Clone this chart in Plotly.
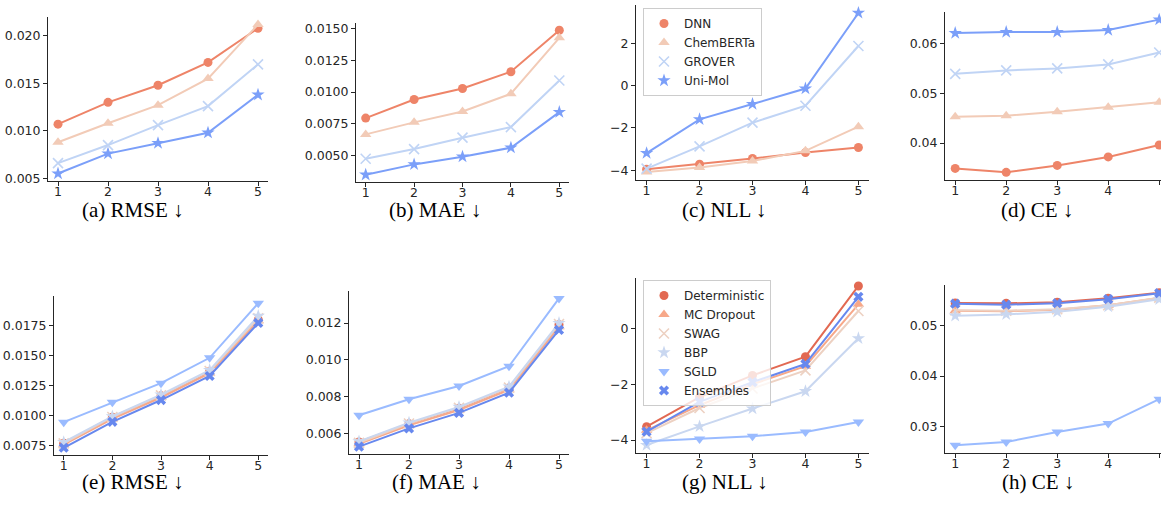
import plotly.graph_objects as go

W, H = 1161, 516
steps = [1, 2, 3, 4, 5]

# ---- Row 1: models ----
models = ["DNN", "ChemBERTa", "GROVER", "Uni-Mol"]
rmse_models = {
    "DNN":       [0.0107, 0.0130, 0.0148, 0.0172, 0.0208],
    "ChemBERTa": [0.0088, 0.0108, 0.0127, 0.0155, 0.0212],
    "GROVER":    [0.0066, 0.0085, 0.0106, 0.0126, 0.0170],
    "Uni-Mol":   [0.0055, 0.0076, 0.0087, 0.0098, 0.0138],
}
mae_models = {
    "DNN":       [0.00795, 0.00942, 0.01029, 0.01161, 0.01489],
    "ChemBERTa": [0.00666, 0.00761, 0.00847, 0.00987, 0.01429],
    "GROVER":    [0.00474, 0.00550, 0.00640, 0.00724, 0.01092],
    "Uni-Mol":   [0.00347, 0.00429, 0.00490, 0.00561, 0.00842],
}
nll_models = {
    "DNN":       [-3.95, -3.71, -3.44, -3.16, -2.92],
    "ChemBERTa": [-4.08, -3.87, -3.56, -3.08, -1.94],
    "GROVER":    [-3.92, -2.87, -1.75, -0.95, 1.87],
    "Uni-Mol":   [-3.19, -1.59, -0.87, -0.14, 3.43],
}
ce_models = {
    "DNN":       [0.0349, 0.0341, 0.0355, 0.0372, 0.0396],
    "ChemBERTa": [0.0453, 0.0455, 0.0463, 0.0472, 0.0482],
    "GROVER":    [0.0539, 0.0546, 0.0550, 0.0558, 0.0582],
    "Uni-Mol":   [0.0621, 0.0623, 0.0623, 0.0627, 0.0648],
}

# ---- Row 2: UQ methods ----
methods = ["Deterministic", "MC Dropout", "SWAG", "BBP", "SGLD", "Ensembles"]
rmse_methods = {
    "Deterministic": [0.00772, 0.00988, 0.01166, 0.01369, 0.01799],
    "MC Dropout":    [0.00760, 0.00975, 0.01152, 0.01355, 0.01790],
    "SWAG":          [0.00770, 0.00990, 0.01170, 0.01372, 0.01810],
    "BBP":           [0.00780, 0.00995, 0.01175, 0.01380, 0.01830],
    "SGLD":          [0.00947, 0.01112, 0.01271, 0.01482, 0.01936],
    "Ensembles":     [0.00734, 0.00950, 0.01131, 0.01331, 0.01772],
}
mae_methods = {
    "Deterministic": [0.00555, 0.00654, 0.00738, 0.00848, 0.01191],
    "MC Dropout":    [0.00545, 0.00645, 0.00728, 0.00838, 0.01180],
    "SWAG":          [0.00550, 0.00655, 0.00740, 0.00850, 0.01195],
    "BBP":           [0.00558, 0.00660, 0.00745, 0.00855, 0.01200],
    "SGLD":          [0.00700, 0.00787, 0.00859, 0.00966, 0.01334],
    "Ensembles":     [0.00530, 0.00629, 0.00713, 0.00823, 0.01163],
}
nll_methods = {
    "Deterministic": [-3.52, -2.46, -1.68, -1.01, 1.53],
    "MC Dropout":    [-3.65, -2.75, -2.00, -1.35, 0.87],
    "SWAG":          [-3.75, -2.85, -2.15, -1.50, 0.63],
    "BBP":           [-4.18, -3.51, -2.87, -2.25, -0.35],
    "SGLD":          [-4.04, -3.96, -3.86, -3.71, -3.35],
    "Ensembles":     [-3.70, -2.63, -1.92, -1.27, 1.14],
}
ce_methods = {
    "Deterministic": [0.05453, 0.05447, 0.05467, 0.05547, 0.05660],
    "MC Dropout":    [0.05300, 0.05290, 0.05320, 0.05407, 0.05553],
    "SWAG":          [0.05310, 0.05300, 0.05330, 0.05410, 0.05560],
    "BBP":           [0.05200, 0.05227, 0.05280, 0.05380, 0.05527],
    "SGLD":          [0.02620, 0.02687, 0.02887, 0.03053, 0.03540],
    "Ensembles":     [0.05440, 0.05420, 0.05450, 0.05530, 0.05650],
}

captions = ["(a) RMSE ↓", "(b) MAE ↓", "(c) NLL ↓", "(d) CE ↓",
            "(e) RMSE ↓", "(f) MAE ↓", "(g) NLL ↓", "(h) CE ↓"]

model_colors = {"DNN": "#ee8468", "ChemBERTa": "#f2cbb7", "GROVER": "#c0d4f5", "Uni-Mol": "#7b9ff9"}
model_symbols = {"DNN": "circle", "ChemBERTa": "triangle-up", "GROVER": "x-thin", "Uni-Mol": "star"}
method_colors = {"Deterministic": "#e26952", "MC Dropout": "#f7a889", "SWAG": "#edd1c2",
                 "BBP": "#c9d7f0", "SGLD": "#9abbff", "Ensembles": "#6788ee"}
method_symbols = {"Deterministic": "circle", "MC Dropout": "triangle-up", "SWAG": "x-thin",
                  "BBP": "star", "SGLD": "triangle-down", "Ensembles": "x"}

# panel pixel boxes: x0, x1, y0(top), y1(bottom), xmax
boxes = [
    (48, 268, 17, 181, 5.2), (356, 569, 23, 182, 5.2), (636, 869, 5, 180, 5.2), (945, 1161, 12, 180, 5.035),
    (54, 268, 296, 455, 5.2), (349, 569, 291, 454, 5.2), (636, 869, 278, 453, 5.2), (945, 1161, 285, 453, 5.035),
]
yfmt = [(".3f", 0.005), (".4f", 0.0025), ("d", 2), (".2f", 0.01),
        (".4f", 0.0025), (".3f", 0.002), ("d", 2), (".2f", 0.01)]

fig = go.Figure()
ink = "#262626"

def add_panel(idx, data, names, colors, symbols, legend_name):
    ax = "" if idx == 0 else str(idx + 1)
    for n in names:
        c = colors[n]
        sym = symbols[n]
        thin = sym == "x-thin"
        size = 10 if sym in ("star", "x-thin", "triangle-up", "triangle-down") else 9
        fig.add_trace(go.Scatter(
            x=steps, y=data[n], mode="lines", line=dict(color=c, width=2),
            xaxis="x" + ax, yaxis="y" + ax, showlegend=False, hoverinfo="skip"))
        fig.add_trace(go.Scatter(
            x=steps, y=data[n], mode="markers", name=n,
            marker=dict(symbol=sym, size=size, color=c,
                        line=dict(color=c, width=1.6 if thin else 0)),
            xaxis="x" + ax, yaxis="y" + ax,
            showlegend=legend_name is not None, legend=legend_name or "legend"))

panels = [(rmse_models, None), (mae_models, None), (nll_models, "legend"), (ce_models, None)]
for i, (d, lg) in enumerate(panels):
    add_panel(i, d, models, model_colors, model_symbols, lg)
panels2 = [(rmse_methods, None), (mae_methods, None), (nll_methods, "legend2"), (ce_methods, None)]
for i, (d, lg) in enumerate(panels2):
    add_panel(i + 4, d, methods, method_colors, method_symbols, lg)

layout = {}
all_data = [rmse_models, mae_models, nll_models, ce_models,
            rmse_methods, mae_methods, nll_methods, ce_methods]
for i, (x0, x1, y0, y1, xmax) in enumerate(boxes):
    ax = "" if i == 0 else str(i + 1)
    vals = [v for s in all_data[i].values() for v in s]
    lo, hi = min(vals), max(vals)
    m = 0.05 * (hi - lo)
    fmt, dt = yfmt[i]
    common = dict(showline=True, linecolor=ink, linewidth=1, ticks="outside", ticklen=4,
                  tickwidth=1, tickcolor=ink, showgrid=False, zeroline=False, automargin=False,
                  tickfont=dict(family="DejaVu Sans", size=12.5, color=ink))
    layout["xaxis" + ax] = dict(domain=[x0 / W, min(1, x1 / W)], range=[0.8, xmax],
                                anchor="y" + ax, tickmode="linear", tick0=1, dtick=1,
                                ticklabelstandoff=-5, **common)
    layout["yaxis" + ax] = dict(domain=[1 - y1 / H, 1 - y0 / H], range=[lo - m, hi + m],
                                anchor="x" + ax, tickformat=fmt if fmt != "d" else None,
                                dtick=dt, tick0=0, **common)

cap_pos = [(133, 210), (435, 210), (724, 210), (1037, 210),
           (133, 482), (436, 482), (725, 482), (1038, 482)]
annotations = []
for t, (cx, cy) in zip(captions, cap_pos):
    annotations.append(dict(text=t, x=cx / W, y=1 - cy / H, xref="paper", yref="paper",
                            showarrow=False, xanchor="center", yanchor="middle",
                            font=dict(family="Liberation Serif", size=21, color="#000000")))

leg_common = dict(bgcolor="rgba(255,255,255,0.8)", bordercolor="#cccccc", borderwidth=1,
                  font=dict(family="DejaVu Sans", size=12, color=ink),
                  xanchor="left", yanchor="top", itemwidth=30)
fig.update_layout(
    width=W, height=H, margin=dict(l=0, r=0, t=0, b=0, autoexpand=False),
    paper_bgcolor="white", plot_bgcolor="white",
    annotations=annotations,
    legend=dict(x=643 / W, y=1 - 8 / H, **leg_common),
    legend2=dict(x=643 / W, y=1 - 280 / H, **leg_common),
    **layout,
)
fig.write_html("out.html", config={"displayModeBar": False},
               post_script="document.body.style.margin='0';document.body.style.overflow='hidden';")
